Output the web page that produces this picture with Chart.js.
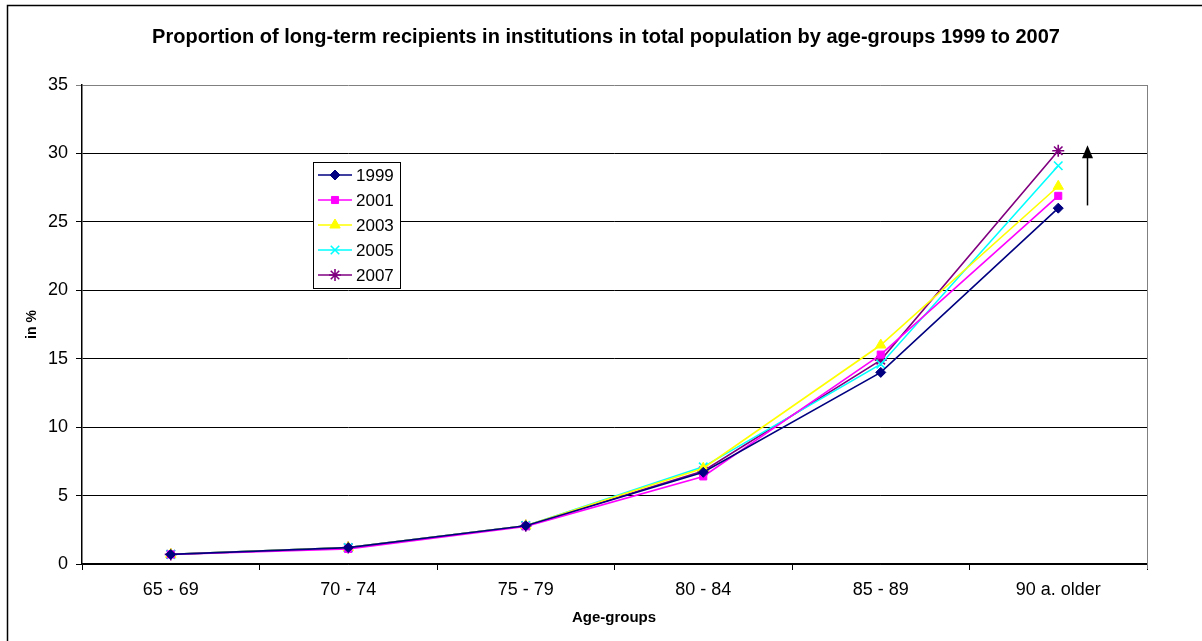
<!DOCTYPE html>
<html>
<head>
<meta charset="utf-8">
<script src="https://cdn.jsdelivr.net/npm/chart.js@4.4.1/dist/chart.umd.min.js"></script>
<style>
  html, body { margin: 0; padding: 0; background: #fff; }
  #wrap { width: 1202px; height: 641px; position: relative; }
</style>
</head>
<body>
<div id="wrap"><canvas id="chartInst"></canvas></div>
<script>
// --- datos ---
const ageGroups = ['65 - 69', '70 - 74', '75 - 79', '80 - 84', '85 - 89', '90 a. older'];
const yTicks = [0, 5, 10, 15, 20, 25, 30, 35];

const s1999 = [0.7, 1.2, 2.8, 6.7, 14.0, 26.0];
const s2001 = [0.7, 1.1, 2.75, 6.4, 15.3, 26.9];
const s2003 = [0.7, 1.2, 2.8, 7.0, 16.0, 27.6];
const s2005 = [0.7, 1.2, 2.8, 7.1, 14.6, 29.1];
const s2007 = [0.7, 1.2, 2.8, 6.8, 14.9, 30.2];

const seriesNames = ['1999', '2001', '2003', '2005', '2007'];
const arrowFrom = 26.2, arrowTo = 30.6;

const FONT = '"Liberation Sans", Arial, sans-serif';

function ds(label, data, color, style, radius) {
    return {
        label: label, data: data,
        borderColor: color, backgroundColor: color,
        borderWidth: 1.6, pointStyle: style, pointRadius: radius,
        pointBorderWidth: style === 'crossRot' || style === 'star' ? 1.6 : 1,
        tension: 0
    };
}

const datasets = [
    ds(seriesNames[0], s1999, '#000080', 'rectRot', 5),
    ds(seriesNames[1], s2001, '#FF00FF', 'rect', 5),
    ds(seriesNames[2], s2003, '#FFFF00', 'triangle', 6),
    ds(seriesNames[3], s2005, '#00FFFF', 'crossRot', 6),
    ds(seriesNames[4], s2007, '#800080', 'star', 6)
];

// marcos, títulos, leyenda y flecha
const decor = {
    id: 'decor',
    beforeDraw(chart) {
        const c = chart.ctx;
        c.save();
        c.fillStyle = '#fff';
        c.fillRect(0, 0, chart.width, chart.height);
        c.strokeStyle = '#000';
        c.lineWidth = 1.5;
        c.strokeRect(7.5, 5.5, chart.width + 20, chart.height + 20);
        c.restore();
    },
    afterDraw(chart) {
        const c = chart.ctx, a = chart.chartArea;
        const x = chart.scales.x, y = chart.scales.y;
        c.save();
        // borde derecho del área
        c.strokeStyle = '#808080';
        c.lineWidth = 1;
        c.beginPath();
        c.moveTo(Math.round(a.right) + 0.5, a.top);
        c.lineTo(Math.round(a.right) + 0.5, a.bottom + 5);
        c.stroke();

        // título
        c.fillStyle = '#000';
        c.textAlign = 'center';
        c.textBaseline = 'middle';
        c.font = 'bold 20px ' + FONT;
        c.fillText('Proportion of long-term recipients in institutions in total population by age-groups 1999 to 2007', 606, 37);

        // títulos de ejes
        c.font = 'bold 15px ' + FONT;
        c.fillText('Age-groups', 614, 618);
        c.save();
        c.translate(32, (a.top + a.bottom) / 2);
        c.rotate(-Math.PI / 2);
        c.font = 'bold 14px ' + FONT;
        c.fillText('in %', 0, 0);
        c.restore();

        // leyenda
        const lx = 313, ly = 162, lw = 87, lh = 126;
        c.fillStyle = '#fff';
        c.fillRect(lx, ly, lw, lh);
        c.strokeStyle = '#000';
        c.lineWidth = 1;
        c.strokeRect(lx + 0.5, ly + 0.5, lw, lh);
        chart.data.datasets.forEach((d, i) => {
            const ry = 175 + i * 25;
            c.strokeStyle = d.borderColor;
            c.lineWidth = 1.6;
            c.beginPath();
            c.moveTo(318, ry);
            c.lineTo(352, ry);
            c.stroke();
            c.fillStyle = d.backgroundColor;
            c.lineWidth = d.pointBorderWidth;
            Chart.helpers.drawPoint(c, { pointStyle: d.pointStyle, radius: d.pointRadius, borderWidth: d.pointBorderWidth, rotation: 0 }, 335, ry);
            c.fillStyle = '#000';
            c.textAlign = 'left';
            c.font = '17px ' + FONT;
            c.fillText(d.label, 356, ry + 1);
        });

        // flecha
        const band = x.getPixelForValue(1) - x.getPixelForValue(0);
        const ax = Math.round(x.getPixelForValue(5) + band * 0.16) + 0.5;
        const yb = y.getPixelForValue(arrowFrom), yt = y.getPixelForValue(arrowTo);
        c.strokeStyle = '#000';
        c.fillStyle = '#000';
        c.lineWidth = 1.5;
        c.beginPath();
        c.moveTo(ax, yb);
        c.lineTo(ax, yt + 10);
        c.stroke();
        c.beginPath();
        c.moveTo(ax, yt);
        c.lineTo(ax - 5.5, yt + 13);
        c.lineTo(ax + 5.5, yt + 13);
        c.closePath();
        c.fill();
        c.restore();
    }
};

function createChart(canvasId) {
    const ctx = document.getElementById(canvasId).getContext('2d');
    new Chart(ctx, {
        type: 'line',
        data: { labels: ageGroups, datasets: datasets },
        plugins: [decor],
        options: {
            responsive: true, maintainAspectRatio: false, animation: false,
            layout: { padding: { left: 0, top: 85, right: 55, bottom: 0 } },
            plugins: { legend: { display: false }, title: { display: false }, tooltip: { enabled: false } },
            scales: {
                x: {
                    offset: true,
                    grid: { offset: true, drawOnChartArea: false, drawTicks: true, tickLength: 6, color: '#000' },
                    border: { color: '#000', width: 1.5 },
                    ticks: { color: '#000', font: { family: FONT, size: 18 }, padding: 9, maxRotation: 0 },
                    afterFit: s => { s.height = 77; }
                },
                y: {
                    min: 0, max: 35,
                    afterBuildTicks: s => { s.ticks = yTicks.map(v => ({ value: v })); },
                    grid: {
                        color: c => c.tick && c.tick.value === 35 ? '#808080' : '#000',
                        tickLength: 6, lineWidth: 1
                    },
                    border: { color: '#000', width: 1.5 },
                    ticks: { color: '#000', font: { family: FONT, size: 18 }, padding: 8 },
                    afterFit: s => { s.width = 82; }
                }
            }
        }
    });
}

document.addEventListener('DOMContentLoaded', () => {
    createChart('chartInst');
});
</script>
</body>
</html>
